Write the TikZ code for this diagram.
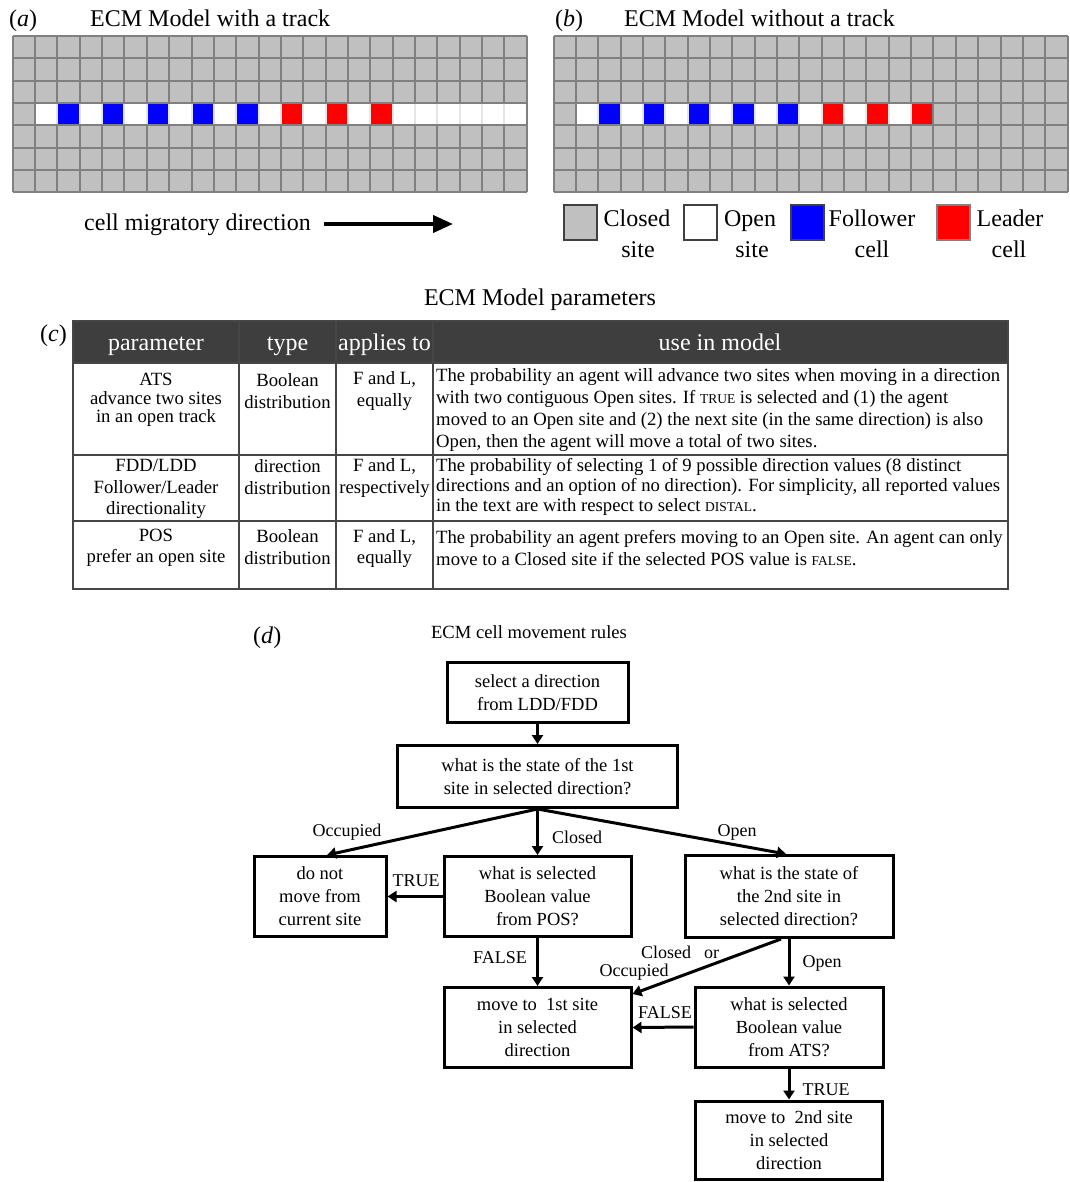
\documentclass[tikz,border=0pt]{standalone}
\usepackage{fontspec}
\setmainfont{Liberation Serif}
\usetikzlibrary{arrows.meta,positioning}

\definecolor{closedgray}{RGB}{192,192,192}
\definecolor{gridgray}{RGB}{128,128,128}
\definecolor{headgray}{RGB}{62,62,62}
\definecolor{rulegray}{RGB}{70,70,70}
\definecolor{follower}{RGB}{0,0,255}
\definecolor{leader}{RGB}{255,0,0}

\newcommand{\fsz}[1]{\fontsize{#1}{#1}\selectfont}
\newcommand{\capsmall}[1]{{\fontsize{13.5}{13.5}\selectfont #1}}

\tikzstyle{flowbox} = [rectangle,
draw=black,
line width=3pt,
inner sep=0pt,
align=center,
font=\fontsize{18.5}{23}\selectfont]
\tikzstyle{flowarrow} = [line width=3pt, -{Triangle[length=9pt,width=11pt]}]
\tikzstyle{flowlabel} = [inner sep=0pt, font=\fsz{18}]
\tikzstyle{celltext} = [inner sep=0pt, align=center, font=\fontsize{18.7}{21.5}\selectfont]
\tikzstyle{usetext} = [inner sep=0pt, anchor=base west, font=\fsz{18.7}]
\tikzstyle{headtext} = [inner sep=0pt, anchor=base, text=white, font=\fsz{24}]
\tikzstyle{keybox} = [rectangle,
minimum width=33pt,
minimum height=35pt,
line width=2pt,
draw=black!75]
\tikzstyle{keytext} = [inner sep=0pt, anchor=base, font=\fsz{24}]
\tikzstyle{titletext} = [inner sep=0pt, anchor=base west, font=\fsz{24}]

\begin{document}
\begin{tikzpicture}[x=1pt, y=-1pt]
\useasboundingbox (0,0) rectangle (1069,1182);

% (a) and (b): the two lattices
\node (panela) [titletext] at (9,27) {(\textit{a})};
\node (titlea) [titletext] at (90,27) {ECM Model with a track};
\node (panelb) [titletext] at (555,27) {(\textit{b})};
\node (titleb) [titletext] at (624,27) {ECM Model without a track};

\foreach \ox/\tailcol/\lastsep in {12.7/white/22, 553.5/closedgray/16} {
  \begin{scope}[shift={(\ox,36)}]
    \fill[closedgray] (0,0) rectangle (514.05,156.45);
    \foreach \c in {1,...,16} \fill[white] ({\c*22.35},67.05) rectangle ++(22.35,22.35);
    \foreach \c in {17,...,22} \fill[\tailcol] ({\c*22.35},67.05) rectangle ++(22.35,22.35);
    \foreach \c in {2,4,...,10} \fill[follower] ({\c*22.35},67.05) rectangle ++(22.35,22.35);
    \foreach \c in {12,14,16} \fill[leader] ({\c*22.35},67.05) rectangle ++(22.35,22.35);
    \foreach \r in {0,...,7} \draw[gridgray, line width=2pt] (0,{\r*22.35}) -- (514.05,{\r*22.35});
    \foreach \c in {0,...,23} \draw[gridgray, line width=2pt] ({\c*22.35},0) -- ({\c*22.35},156.45);
    \foreach \c in {2,...,\lastsep} \draw[gray!20, line width=2pt] ({\c*22.35},68.2) -- ({\c*22.35},88.2);
  \end{scope}
}

\node (migtext) [titletext] at (84,231) {cell migratory direction};
\coordinate (migtip) at (453,224);
\draw [line width=4pt, -{Triangle[length=20pt,width=17pt]}] ([xshift=13pt]migtext.east |- migtip) -- (migtip);

% legend
\node (keyclosed) [keybox, fill=closedgray] at (580,223) {};
\node (keyopen) [keybox, fill=white] at (700,223) {};
\node (keyfollow) [keybox, fill=follower] at (807,223) {};
\node (keylead) [keybox, fill=leader, draw=gray] at (953,223) {};
\node (txtclosed) [keytext] at (637,227) {Closed};
\node (txtclosedb) [keytext] at (638,258) {site};
\node (txtopen) [keytext] at (750,227) {Open};
\node (txtopenb) [keytext] at (752,258) {site};
\node (txtfollow) [keytext] at (872,227) {Follower};
\node (txtfollowb) [keytext] at (872,258) {cell};
\node (txtlead) [keytext] at (1010,227) {Leader};
\node (txtleadb) [keytext] at (1009,258) {cell};

% (c) parameter table
\node (tabletitle) [keytext] at (540,305) {ECM Model parameters};
\node (panelc) [titletext] at (40,341) {(\textit{c})};
\fill[headgray] (73,321) rectangle (1008,363);
\draw[rulegray, line width=1.5pt] (73,321) rectangle (1008,589);
\foreach \y in {363,455,521} \draw[rulegray, line width=1.5pt] (73,\y) -- (1008,\y);
\foreach \x in {239,336,433} \draw[rulegray, line width=1.5pt] (\x,321) -- (\x,589);

\node (hparam) [headtext] at (156,350) {parameter};
\node (htype) [headtext] at (287.5,350) {type};
\node (happlies) [headtext] at (384.5,350) {applies to};
\node (huse) [headtext] at (720,350) {use in model};

\node (atsname) [celltext, font=\fontsize{18.7}{18.5}\selectfont] at (156,400) {ATS\\advance two sites\\in an open track};
\node (atstype) [celltext] at (287.5,391) {Boolean\\distribution};
\node (atsapply) [celltext] at (384.5,391) {F and L,\\equally};
\node (atsuse1) [usetext] at (436,381) {The probability an agent will advance two sites when moving in a direction};
\node (atsuse2) [usetext] at (436,403) {with two contiguous Open sites. If \capsmall{TRUE} is selected and (1) the agent};
\node (atsuse3) [usetext] at (436,425) {moved to an Open site and (2) the next site (in the same direction) is also};
\node (atsuse4) [usetext] at (436,447) {Open, then the agent will move a total of two sites.};

\node (fddname) [celltext] at (156,489) {FDD/LDD\\Follower/Leader\\directionality};
\node (fddtype) [celltext] at (287.5,477) {direction\\distribution};
\node (fddapply) [celltext] at (384.5,478) {F and L,\\respectively};
\node (fdduse1) [usetext] at (436,471) {The probability of selecting 1 of 9 possible direction values (8 distinct};
\node (fdduse2) [usetext] at (436,491) {directions and an option of no direction). For simplicity, all reported values};
\node (fdduse3) [usetext] at (436,511) {in the text are with respect to select \capsmall{DISTAL}.};

\node (posname) [celltext] at (156,548) {POS\\prefer an open site};
\node (postype) [celltext] at (287.5,547) {Boolean\\distribution};
\node (posapply) [celltext] at (384.5,548.5) {F and L,\\equally};
\node (posuse1) [usetext] at (436,543) {The probability an agent prefers moving to an Open site. An agent can only};
\node (posuse2) [usetext] at (436,565) {move to a Closed site if the selected POS value is \capsmall{FALSE}.};

% (d) movement rules
\node (paneld) [titletext] at (253,643) {(\textit{d})};
\node (rulestitle) [inner sep=0pt, anchor=base, font=\fsz{18.6}] at (529,638) {ECM cell movement rules};

\node (pickdir) [flowbox, minimum width=181pt, minimum height=60pt] at (537.5,692.5) {select a direction\\from LDD/FDD};
\node (firstsite) [flowbox, below of=pickdir, node distance=84pt, minimum width=280pt, minimum height=62pt] {what is the state of the 1st\\site in selected direction?};
\node (posvalue) [flowbox, below of=firstsite, node distance=120pt, minimum width=187pt, minimum height=80pt] {what is selected\\Boolean value\\from POS?};
\node (stay) [flowbox, left of=posvalue, node distance=217.5pt, minimum width=132pt, minimum height=80pt] {do not\\move from\\current site};
\node (secondsite) [flowbox, right of=posvalue, node distance=251.5pt, minimum width=208pt, minimum height=82pt] {what is the state of\\the 2nd site in\\selected direction?};
\node (moveone) [flowbox, below of=posvalue, node distance=131pt, minimum width=187pt, minimum height=80pt] {move to~ 1st site\\in selected\\direction};
\node (atsvalue) [flowbox, below of=secondsite, node distance=130.5pt, minimum width=188pt, minimum height=80pt] {what is selected\\Boolean value\\from ATS?};
\node (movetwo) [flowbox, below of=atsvalue, node distance=113pt, minimum width=187pt, minimum height=78pt] {move to~ 2nd site\\in selected\\direction};

\node (occlabel) [flowlabel] at (347,832) {Occupied};
\node (closedlabel) [flowlabel] at (577,837) {Closed};
\node (openlabel) [flowlabel] at (737,832) {Open};
\node (postrue) [flowlabel] at (416,881) {TRUE};
\node (posfalse) [flowlabel] at (500,958) {FALSE};
\node (blockeda) [flowlabel] at (680,952) {Closed\hspace{13pt}or};
\node (blockedb) [flowlabel] at (634,972) {Occupied};
\node (openlabelb) [flowlabel] at (822,963) {Open};
\node (atsfalse) [flowlabel] at (665,1013) {FALSE};
\node (atstrue) [flowlabel] at (826,1090) {TRUE};

\draw [flowarrow] (pickdir) -- (firstsite);
\draw [flowarrow] (firstsite.south) -- ([xshift=7pt]stay.north);
\draw [flowarrow] (firstsite.south) -- (posvalue.north);
\draw [flowarrow] (firstsite.south) -- ([xshift=-3pt]secondsite.north);
\draw [flowarrow] (posvalue.west) -- (stay.east);
\draw [flowarrow] (posvalue.south) -- (moveone.north);
\draw [flowarrow] ([xshift=-8pt]secondsite.south) -- ([yshift=-8pt]moveone.north east);
\draw [flowarrow] (secondsite.south) -- (atsvalue.north);
\draw [flowarrow] (atsvalue.west) -- (moveone.east);
\draw [flowarrow] (atsvalue.south) -- (movetwo.north);
\end{tikzpicture}
\end{document}
